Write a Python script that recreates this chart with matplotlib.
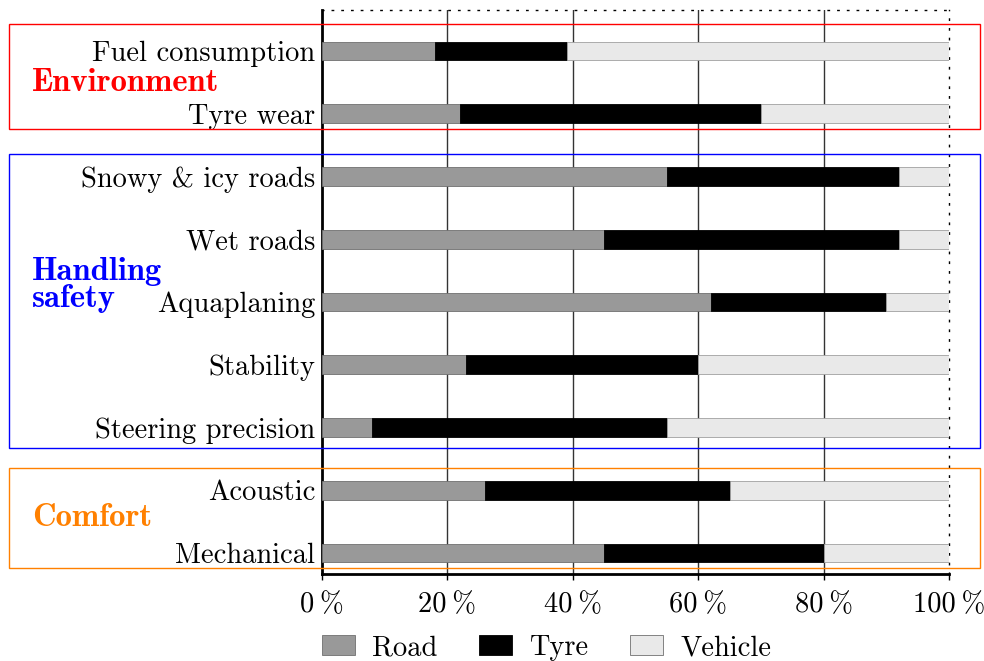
import matplotlib
matplotlib.use("Agg")
import matplotlib.pyplot as plt
from matplotlib.patches import Rectangle, Patch
from matplotlib.transforms import blended_transform_factory

categories = ["Fuel consumption", "Tyre wear", "Snowy & icy roads", "Wet roads",
              "Aquaplaning", "Stability", "Steering precision", "Acoustic", "Mechanical"]
road = [18, 22, 55, 45, 62, 23, 8, 26, 45]
tyre = [21, 48, 37, 47, 28, 37, 47, 39, 35]
vehicle = [61, 30, 8, 8, 10, 40, 45, 35, 20]
series_names = ["Road", "Tyre", "Vehicle"]
xticks = [0, 20, 40, 60, 80, 100]
xtick_labels = ["0\u2009%", "20\u2009%", "40\u2009%", "60\u2009%", "80\u2009%", "100\u2009%"]
groups = [("Environment", 0, 1, "#ff0000"),
          ("Handling\nsafety", 2, 6, "#0000ff"),
          ("Comfort", 7, 8, "#ff8000")]

plt.rcParams['font.family'] = ['cmr10', 'DejaVu Serif']
plt.rcParams['axes.formatter.use_mathtext'] = True
plt.rcParams['mathtext.fontset'] = 'cm'

FS = 20.5
W, H = 984, 661
fig = plt.figure(figsize=(W/100, H/100), dpi=100)
ax = fig.add_axes([322/W, 1-574/H, (949-322)/W, (574-10)/H])

y = list(range(len(categories)))
h = 0.30
left2 = [r for r in road]
left3 = [r + t for r, t in zip(road, tyre)]
ax.barh(y, road, height=h, color="#999999", edgecolor="#707070", linewidth=0.6, zorder=3)
ax.barh(y, tyre, left=left2, height=h, color="#000000", edgecolor="#000000", linewidth=0.6, zorder=3)
ax.barh(y, vehicle, left=left3, height=h, color="#e9e9e9", edgecolor="#a0a0a0", linewidth=0.6, zorder=3)

ax.set_xlim(0, 100)
ax.set_ylim(8 + 21/62.75, -41/62.75)
ax.set_xticks(xticks)
ax.set_xticklabels(xtick_labels, fontsize=FS, family=['cmr10', 'DejaVu Serif'])
ax.set_yticks(y)
ax.set_yticklabels(categories, fontsize=FS)
ax.tick_params(axis='y', length=0, pad=5)
ax.tick_params(axis='x', length=4, width=1, direction='out', pad=9)
for v in xticks[1:-1]:
    ax.axvline(v, color="#333333", lw=1.0, zorder=1)

for s in ['left', 'bottom']:
    ax.spines[s].set_linewidth(2.0)
    ax.spines[s].set_color('black')
for s in ['top', 'right']:
    ax.spines[s].set_linestyle((0, (1, 6)))
    ax.spines[s].set_linewidth(1.0)

tr = blended_transform_factory(fig.transFigure, ax.transData)
unit = 62.75
box_offsets = {0: (27/unit, 15/unit), 2: (22/unit, 21/unit), 7: (22/unit, 15/unit)}
label_shift = {0: 0.0, 2: -17/unit, 7: -4/unit}
for name, i0, i1, col in groups:
    top_off, bot_off = box_offsets[i0]
    y0 = i0 - top_off
    y1 = i1 + bot_off
    rect = Rectangle((9/W, y0), (980-9)/W, y1 - y0, transform=tr, fill=False,
                     edgecolor=col, linewidth=1.0, clip_on=False, zorder=5)
    fig.add_artist(rect)
    ym = (i0 + i1) / 2 + label_shift[i0]
    fig.text(32/W, ym, name, transform=tr, color=col, fontsize=23.5,
             family=['cmb10', 'DejaVu Serif'], fontweight='bold',
             ha='left', va='center', linespacing=0.95)

handles = [Patch(facecolor="#999999", edgecolor="#707070", lw=0.6),
           Patch(facecolor="#000000", edgecolor="#000000", lw=0.6),
           Patch(facecolor="#e9e9e9", edgecolor="#707070", lw=0.6)]
fig.legend(handles, series_names, loc='center left', bbox_to_anchor=(322/W, 1-648/H),
           ncol=3, frameon=False, fontsize=FS, handlelength=1.17, handleheight=0.7,
           columnspacing=1.45, handletextpad=0.6, borderpad=0, borderaxespad=0)

fig.savefig("out.png", dpi=100)
